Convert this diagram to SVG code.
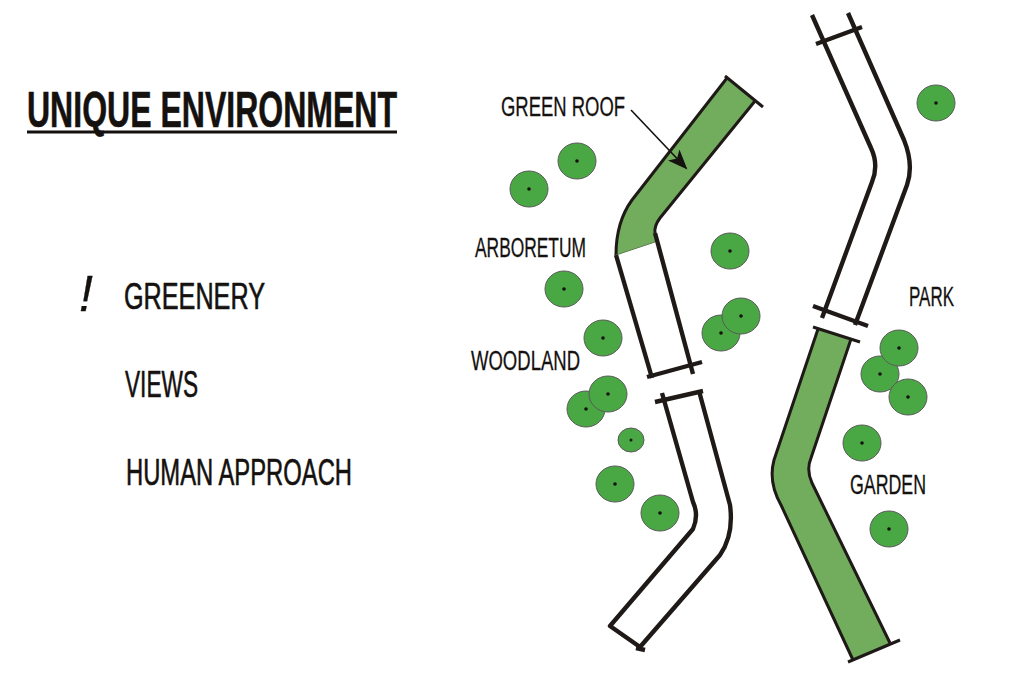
<svg xmlns="http://www.w3.org/2000/svg" width="1024" height="677" viewBox="0 0 1024 677">
<style>
.t{font-family:"Liberation Sans",Arial,sans-serif;fill:#14110f;stroke:#14110f;stroke-linejoin:round}
.h{font-size:50px;font-weight:bold;stroke-width:.6}
.l{font-size:36px;stroke-width:.6}
.s{font-size:27px;stroke-width:.3}
.wall{fill:none;stroke:#1f1a17;stroke-width:4.4;stroke-linecap:butt;stroke-linejoin:round}
.thin{stroke-width:3}
.roof{fill:#72ad5d;stroke:none}
.tree ellipse{fill:#4aa844;stroke:#5a5a5a;stroke-width:1}
.tree circle{fill:#14110f}
</style>
<defs>
<marker id="ah" markerUnits="userSpaceOnUse" markerWidth="22" markerHeight="16" refX="18" refY="8" orient="auto"><path d="M0 0L20 8L0 16L5 8Z" fill="#14110f"/></marker>
<g id="tr" class="tree"><ellipse rx="19" ry="18"/><circle r="1.8"/></g>
</defs>

<g id="title">
<text class="t h" x="27" y="127" textLength="370" lengthAdjust="spacingAndGlyphs">UNIQUE ENVIRONMENT</text>
<line x1="27" y1="132" x2="397" y2="132" stroke="#14110f" stroke-width="3"/>
</g>
<g id="list">
<text class="t" x="79" y="311" font-size="50" font-style="italic" stroke-width=".3">!</text>
<text class="t l" x="124" y="309" textLength="141" lengthAdjust="spacingAndGlyphs">GREENERY</text>
<text class="t l" x="125" y="397" textLength="73" lengthAdjust="spacingAndGlyphs">VIEWS</text>
<text class="t l" x="126" y="485" textLength="226" lengthAdjust="spacingAndGlyphs">HUMAN APPROACH</text>
</g>

<g id="building-upper-left">
<path class="roof" d="M727 78L755 101L660 218Q654 226 655 242L616 255Q616 222 632 200Z"/>
<path class="wall thin" d="M616 255Q616 222 632 200L727 78"/>
<path class="wall thin" d="M755 101L660 218Q654 226 655 233"/>
<path class="wall thin" d="M725 76L763 107"/>
<path d="M616 255L655 242" fill="none" stroke="#5d7d4f" stroke-width="1"/>
<path class="wall" d="M616 255L652 378"/>
<path class="wall" d="M655 233L693 374"/>
<path class="wall" d="M647 377L702 362"/>
</g>
<g id="building-lower-left">
<path class="wall" d="M655 402L703 391"/>
<path class="wall" d="M662 393L693 502Q699 515 693 529L610 626L640 647L720 555Q734 535 730 505L699 391"/>
<path class="wall" d="M636 648L645 650"/>
</g>
<g id="building-upper-right">
<path class="wall" d="M812 15L871 148Q879 165 872 182L822 318"/>
<path class="wall" d="M848 13L904 140Q914 165 907 185L855 325"/>
<path class="wall" d="M816 44L862 27"/>
<path class="wall" d="M813 306L868 326"/>
</g>
<g id="building-lower-right">
<path class="roof" d="M818 329L851 339L811 458Q806 470 812 483L890 643L853 660L781 505Q768 482 774 460Z"/>
<path class="wall thin" d="M818 329L774 460Q768 482 781 505L853 660"/>
<path class="wall thin" d="M851 339L811 458Q806 470 812 483L890 643"/>
<path class="wall thin" d="M813 327L860 342"/>
<path class="wall thin" d="M848 662L900 640"/>
</g>

<g id="trees">
<use id="tree-1" href="#tr" x="936" y="103"/>
<use id="tree-2" href="#tr" x="577" y="161"/>
<use id="tree-3" href="#tr" x="529" y="189"/>
<use id="tree-4" href="#tr" x="730" y="251"/>
<use id="tree-5" href="#tr" x="564" y="289"/>
<use id="tree-6" href="#tr" x="603" y="338"/>
<use id="tree-7" href="#tr" x="721" y="333"/>
<use id="tree-8" href="#tr" x="741" y="316"/>
<use id="tree-9" href="#tr" x="586" y="409"/>
<use id="tree-10" href="#tr" x="608" y="394"/>
<g id="tree-11" class="tree" transform="translate(631 440)"><ellipse rx="13" ry="12"/><circle r="1.5"/></g>
<use id="tree-12" href="#tr" x="615" y="484"/>
<use id="tree-13" href="#tr" x="660" y="513"/>
<use id="tree-14" href="#tr" x="880" y="374"/>
<use id="tree-15" href="#tr" x="899" y="348"/>
<use id="tree-16" href="#tr" x="908" y="397"/>
<use id="tree-17" href="#tr" x="862" y="443"/>
<use id="tree-18" href="#tr" x="889" y="529"/>
</g>

<g id="connectors">
<line x1="631" y1="110" x2="686" y2="168" stroke="#14110f" stroke-width="1.6" marker-end="url(#ah)"/>
</g>

<g id="labels">
<text class="t s" x="501" y="116" textLength="124" lengthAdjust="spacingAndGlyphs">GREEN ROOF</text>
<text class="t s" x="475" y="257" textLength="111" lengthAdjust="spacingAndGlyphs">ARBORETUM</text>
<text class="t s" x="471" y="370" textLength="109" lengthAdjust="spacingAndGlyphs">WOODLAND</text>
<text class="t s" x="909" y="306" textLength="45" lengthAdjust="spacingAndGlyphs">PARK</text>
<text class="t s" x="850" y="494" textLength="76" lengthAdjust="spacingAndGlyphs">GARDEN</text>
</g>
</svg>
